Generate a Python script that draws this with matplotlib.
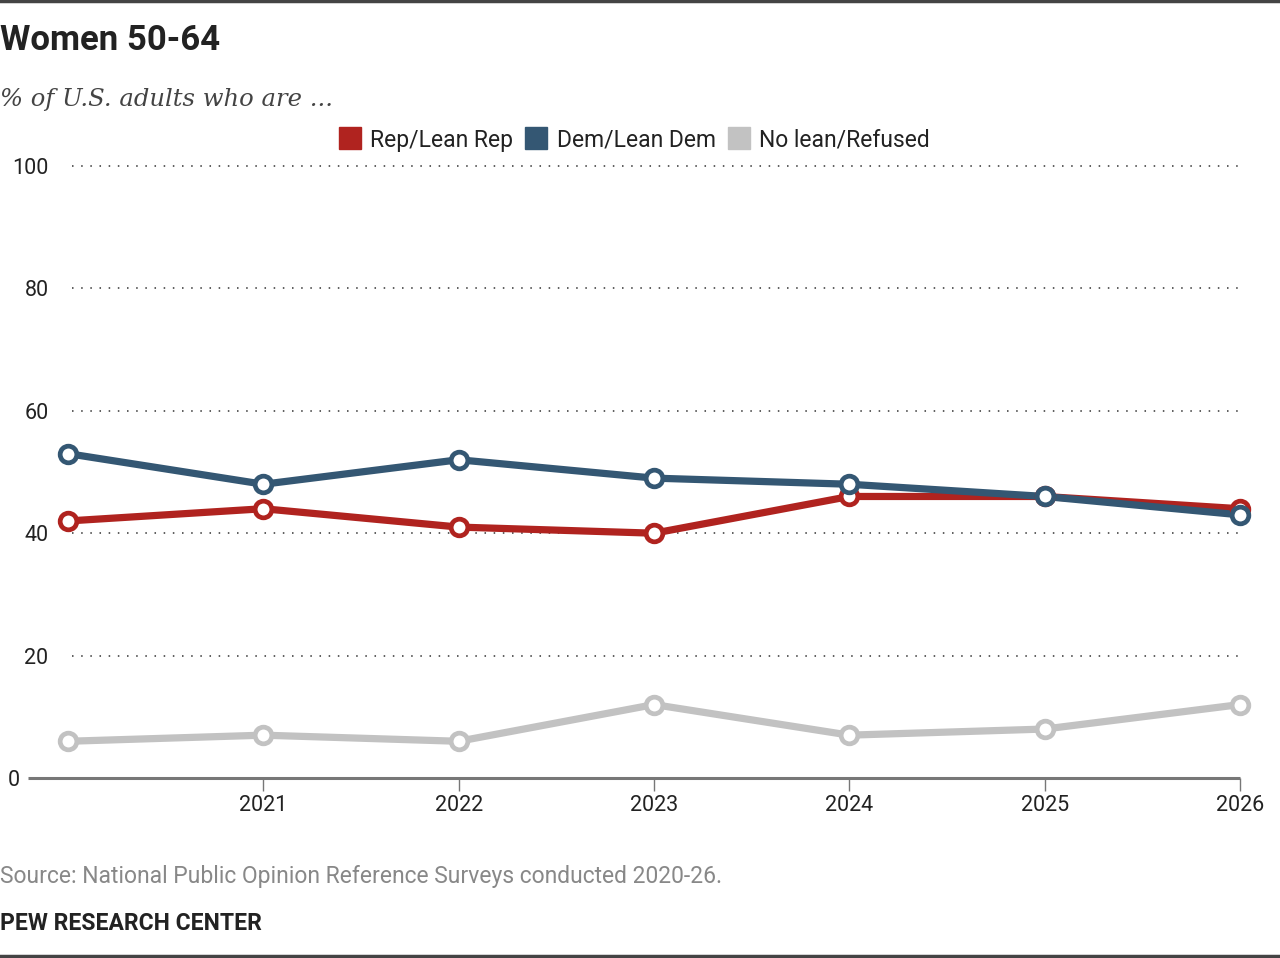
# -*- coding:utf-8 -*-
import matplotlib
matplotlib.use("Agg")
import matplotlib.pyplot as plt
from matplotlib.lines import Line2D
from matplotlib.transforms import ScaledTranslation

# data
years = [2020, 2021, 2022, 2023, 2024, 2025, 2026]
tick_years = [2021, 2022, 2023, 2024, 2025, 2026]
rep = [42, 44, 41, 40, 46, 46, 44]
dem = [53, 48, 52, 49, 48, 46, 43]
no_lean = [6, 7, 6, 12, 7, 8, 12]
series_names = ["Rep/Lean Rep", "Dem/Lean Dem", "No lean/Refused"]
y_ticks = [0, 20, 40, 60, 80, 100]

c_rep = "#b0231f"
c_dem = "#345773"
c_none = "#c2c2c2"
c_text = "#222222"

plt.rcParams["font.family"] = ["Roboto", "DejaVu Sans"]

W, H = 1280, 958
fig = plt.figure(figsize=(W / 100, H / 100), dpi=100)
ax = fig.add_axes([68 / W, (H - 778) / H, (1240 - 68) / W, (778 - 166) / H])
ax.set_xlim(2020, 2026)
ax.set_ylim(0, 100)
for s in ax.spines.values():
    s.set_visible(False)

# dotted grid
for v in y_ticks[1:]:
    ax.plot([2020.02, 2026], [v, v], color="#333333", lw=1.1,
            linestyle=(0, (1, 5)), zorder=1, clip_on=False)
# base line
ax.plot([2020 - 40 / 195.3, 2026], [0, 0], color="#777777", lw=2.2,
        zorder=2, clip_on=False, solid_capstyle="butt")

for vals, col in [(no_lean, c_none), (rep, c_rep), (dem, c_dem)]:
    ax.plot(years, vals, color=col, lw=5.2, zorder=3, clip_on=False,
            solid_joinstyle="round", solid_capstyle="round")
for vals, col, z in [(no_lean, c_none, 4), (rep, c_rep, 5), (dem, c_dem, 6)]:
    ax.plot(years, vals, linestyle="none", marker="o", markersize=12,
            markerfacecolor="white", markeredgecolor=col, markeredgewidth=3.4,
            zorder=z, clip_on=False)

ax.set_xticks(tick_years)
ax.set_xticklabels([str(y) for y in tick_years], fontsize=15.5, color=c_text)
ax.tick_params(axis="x", length=9, width=1, color="#777777", pad=3)
ax.set_yticks(y_ticks)
ax.set_yticklabels([str(v) for v in y_ticks], fontsize=15.5, color=c_text)
ax.tick_params(axis="y", length=0, pad=14)
# the "0" label sits left of the base line
lab0 = ax.get_yticklabels()[0]
lab0.set_transform(lab0.get_transform() + ScaledTranslation(-0.29, 0, fig.dpi_scale_trans))

# titles and notes
fig.text(0, 1 - 40 / H, "Women 50-64", fontsize=25, fontweight="bold",
         color=c_text, va="center", ha="left")
fig.text(0, 1 - 99 / H, "% of U.S. adults who are ...", fontsize=17.5,
         style="italic", family=["DejaVu Serif"],
         color="#444444", va="center", ha="left")
fig.text(0, 1 - 876 / H, "Source: National Public Opinion Reference Surveys conducted 2020-26.",
         fontsize=16.5, color="#888888", va="center", ha="left")
fig.text(0, 1 - 924 / H, "PEW RESEARCH CENTER", fontsize=16.5, fontweight="bold",
         color=c_text, va="center", ha="left")

# top and bottom rules
fig.add_artist(Line2D([0, 1], [1 - 1 / H, 1 - 1 / H], color="#444444", lw=2.5))
fig.add_artist(Line2D([0, 1], [1 - 956 / H, 1 - 956 / H], color="#444444", lw=2.5))

handles = [Line2D([], [], linestyle="none", marker="s", markersize=16,
                  markerfacecolor=c, markeredgecolor=c) for c in (c_rep, c_dem, c_none)]
fig.legend(handles, series_names, loc="center", bbox_to_anchor=(634 / W, 1 - 140 / H),
           ncol=3, frameon=False, fontsize=16.5, handlelength=1.0, handletextpad=0.4,
           columnspacing=0.5, labelcolor=c_text)

fig.savefig("out.png", dpi=100)
